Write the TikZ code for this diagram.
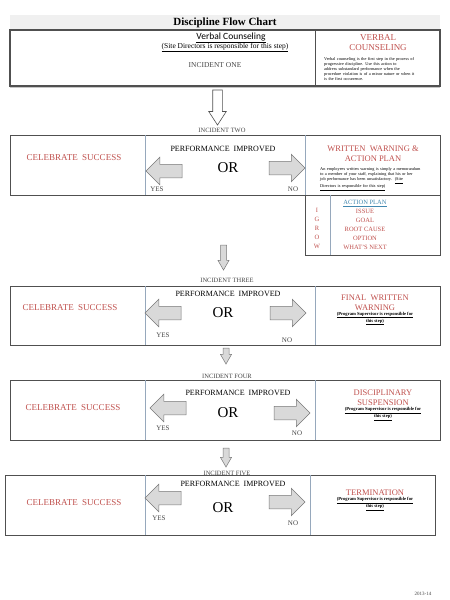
\documentclass[tikz,border=0pt]{standalone}
\usepackage{fontspec}
\setmainfont{Liberation Serif}
\newfontfamily\calibrifont{Carlito}
\usepackage{xcolor}
\usetikzlibrary{shapes, arrows, positioning}

\definecolor{warnred}{RGB}{192,80,77}
\definecolor{planteal}{RGB}{65,135,175}
\definecolor{boxline}{RGB}{80,80,80}
\definecolor{divline}{RGB}{150,168,188}
\definecolor{arrowfill}{RGB}{217,217,217}
\definecolor{arrowline}{RGB}{120,120,120}
\definecolor{incgray}{RGB}{70,70,70}

\newcommand{\fsz}[2]{\fontsize{#1}{#2}\selectfont}

\tikzset{
  outerbox/.style={draw=boxline, line width=0.9pt},
  divider/.style={draw=divline, line width=0.6pt},
  redhead/.style={text=warnred, font=\fsz{8.5}{10}, align=center},
  celebrate/.style={text=warnred, font=\fsz{9}{11}},
  perf/.style={font=\fsz{8}{10}},
  ortext/.style={font=\fsz{15}{17}},
  yesno/.style={font=\fsz{7}{8}, text=incgray},
  incident/.style={font=\fsz{6.5}{8}, text=incgray},
  supnote/.style={font=\bfseries\fsz{4.6}{5.6}, align=center},
  smallpara/.style={font=\fsz{4.3}{4.9}, align=left, text width=112pt, inner sep=0pt},
  sidearrow/.style={single arrow, draw=arrowline, fill=arrowfill, line width=0.5pt,
    inner xsep=0pt, inner ysep=6.5pt, outer sep=0pt, single arrow head extend=7pt,
    minimum height=36pt},
  downarrow/.style={single arrow, draw=arrowline, fill=arrowfill, line width=0.5pt,
    inner ysep=0pt, inner xsep=2.75pt, outer sep=0pt, single arrow head extend=2.5pt,
    single arrow tip angle=60, shape border rotate=270}
}

\begin{document}
\begin{tikzpicture}[x=1pt, y=-1pt]
    \useasboundingbox[fill=white] (0,0) rectangle (450,600);

    % title and verbal counseling
    \fill[gray!12] (10,15) rectangle (440,30);
    \draw[gray!45, line width=1.2pt] (10,87.5) -- (440,87.5);
    \draw[boxline, line width=1.3pt] (10,30) rectangle (440,86);
    \draw[boxline, line width=1pt] (315,30) -- (315,86);
    \node (title) at (225,23) {\bfseries\fsz{11}{13}Discipline Flow Chart};
    \node (verbalhead) at (231,38) {\calibrifont\fsz{9.5}{11}\underline{Verbal Counseling}};
    \node (sitenote) at (225,47.5) {\fsz{7.5}{9}\underline{(Site Directors is responsible for this step)}};
    \node[incident, font=\fsz{7.5}{9}] (incone) at (215,65) {INCIDENT ONE};
    \node[redhead, font=\fsz{9}{10}] (verbalcell) at (378,43) {VERBAL\\COUNSELING};
    \node[smallpara, anchor=north west] (verbalpara) at (324,57.5)
        {Verbal counseling is the first step in the process of\\
         progressive discipline. Use this action to\\
         address substandard performance when the\\
         procedure violation is of a minor nature or when it\\
         is the first occurrence.};

    \node[single arrow, draw=boxline, fill=white, line width=0.6pt, inner ysep=0pt,
          inner xsep=4.5pt, outer sep=0pt, single arrow head extend=4pt,
          single arrow tip angle=66, shape border rotate=270, minimum height=35pt,
          anchor=tip] (arrowone) at (217.5,125) {};

    % incident two
    \node[incident] (inctwo) at (222,130) {INCIDENT TWO};
    \draw[outerbox] (10,135) rectangle (440,195);
    \draw[divider] (145,135) -- (145,195);
    \draw[divider] (305,135) -- (305,195);
    \node[celebrate] (celebtwo) at (74,158) {CELEBRATE\ \ SUCCESS};
    \node[perf] (perftwo) at (223,149) {PERFORMANCE\ \ IMPROVED};
    \node[ortext] (ortwo) at (228,168) {OR};
    \node[sidearrow, shape border rotate=180, anchor=tip] (yesarrowtwo) at (146,171) {};
    \node[sidearrow, anchor=tip] (noarrowtwo) at (305,168) {};
    \node[yesno] (yestwo) at (157,189) {YES};
    \node[yesno] (notwo) at (293,189) {NO};
    \node[redhead] (warnhead) at (373,154) {WRITTEN\ \ WARNING \&\\ACTION PLAN};
    \node[smallpara, anchor=north west] (warnpara) at (320,167.5)
        {An employees written warning is simply a memorandum\\
         to a member of your staff, explaining that his or her\\
         job performance has been unsatisfactory.\ \ \underline{(Site}\\
         \underline{Directors is responsible for this step)}};

    \draw[outerbox] (305,195) rectangle (440,255);
    \draw[divider] (330,195) -- (330,255);
    \node[text=warnred, font=\fsz{6.5}{8.9}, align=center] (igrow) at (317,228.5)
        {I\\G\\R\\O\\W};
    \node[text=warnred, font=\fsz{6.5}{8.9}, align=center] (planlist) at (365,225)
        {\textcolor{planteal}{\underline{ACTION PLAN}}\\ISSUE\\GOAL\\ROOT CAUSE\\OPTION\\WHAT'S NEXT};

    \node[downarrow, minimum height=25pt, anchor=tip] (arrowtwo) at (223.5,270) {};

    % incident three
    \node[incident] (incthree) at (227,280) {INCIDENT THREE};
    \draw[outerbox] (10,286) rectangle (440,345);
    \draw[divider] (145,286) -- (145,345);
    \draw[divider] (315,286) -- (315,345);
    \node[celebrate] (celebthree) at (70,308) {CELEBRATE\ \ SUCCESS};
    \node[perf] (perfthree) at (228,294) {PERFORMANCE\ \ IMPROVED};
    \node[ortext] (orthree) at (223,313) {OR};
    \node[sidearrow, shape border rotate=180, anchor=tip] (yesarrowthree) at (145,313) {};
    \node[sidearrow, anchor=tip] (noarrowthree) at (306,313) {};
    \node[yesno] (yesthree) at (163,335) {YES};
    \node[yesno] (nothree) at (287,340) {NO};
    \node[redhead] (finalhead) at (375,303) {FINAL\ \ WRITTEN\\WARNING};
    \node[supnote] (finalnote) at (375,318.5)
        {\underline{(Program Supervisor is responsible for}\\\underline{this step)}};

    \node[downarrow, minimum height=16pt, anchor=tip] (arrowthree) at (226,364) {};

    % incident four
    \node[incident] (incfour) at (227,376) {INCIDENT FOUR};
    \draw[outerbox] (10,380) rectangle (440,440);
    \draw[divider] (145,380) -- (145,440);
    \draw[divider] (315,380) -- (315,440);
    \node[celebrate] (celebfour) at (73,408) {CELEBRATE\ \ SUCCESS};
    \node[perf] (perffour) at (238,393) {PERFORMANCE\ \ IMPROVED};
    \node[ortext] (orfour) at (228,413) {OR};
    \node[sidearrow, shape border rotate=180, anchor=tip] (yesarrowfour) at (150,408) {};
    \node[sidearrow, anchor=tip] (noarrowfour) at (310,413) {};
    \node[yesno] (yesfour) at (163,428) {YES};
    \node[yesno] (nofour) at (297,433) {NO};
    \node[redhead] (suspendhead) at (383,398) {DISCIPLINARY\\SUSPENSION};
    \node[supnote] (suspendnote) at (383,414)
        {\underline{(Program Supervisor is responsible for}\\\underline{this step)}};

    \node[downarrow, minimum height=19pt, anchor=tip] (arrowfour) at (226,467) {};

    % incident five
    \node[incident] (incfive) at (227,473) {INCIDENT FIVE};
    \draw[outerbox] (5,475) rectangle (435,535);
    \draw[divider] (145,475) -- (145,535);
    \draw[divider] (310,475) -- (310,535);
    \node[celebrate] (celebfive) at (74,503) {CELEBRATE\ \ SUCCESS};
    \node[perf] (perffive) at (233,484) {PERFORMANCE\ \ IMPROVED};
    \node[ortext] (orfive) at (223,508) {OR};
    \node[sidearrow, shape border rotate=180, anchor=tip] (yesarrowfive) at (145,498) {};
    \node[sidearrow, anchor=tip] (noarrowfive) at (305,502) {};
    \node[yesno] (yesfive) at (159,518) {YES};
    \node[yesno] (nofive) at (293,523) {NO};
    \node[redhead] (termhead) at (375,493) {TERMINATION};
    \node[supnote] (termnote) at (375,504)
        {\underline{(Program Supervisor is responsible for}\\\underline{this step)}};

    \node[font=\fsz{5}{6}, text=incgray] (year) at (423,594) {2013-14};
\end{tikzpicture}
\end{document}
